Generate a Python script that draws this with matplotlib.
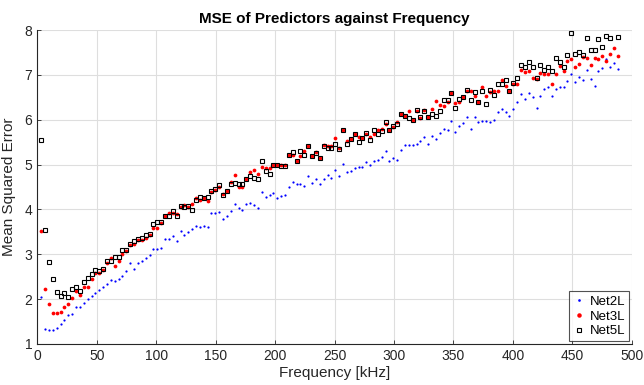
import numpy as np
import matplotlib
matplotlib.use("Agg")
import matplotlib.pyplot as plt

# frequency grid of the sweep (kHz)
freq = np.arange(1, 151) * 3.255

# MSE per frequency
net2l = [2.04, 1.34, 1.31, 1.31, 1.36, 1.45, 1.53, 1.64, 1.67, 1.83,
         1.83, 1.91, 2.01, 2.08, 2.14, 2.20, 2.27, 2.34, 2.43, 2.40,
         2.45, 2.52, 2.62, 2.80, 2.68, 2.80, 2.84, 2.92, 2.99, 3.11,
         3.11, 3.15, 3.33, 3.33, 3.40, 3.30, 3.52, 3.42, 3.50, 3.56,
         3.62, 3.60, 3.63, 3.60, 3.92, 3.91, 3.94, 3.78, 3.86, 3.97,
         4.12, 4.03, 3.99, 4.12, 4.15, 4.11, 4.03, 4.38, 4.27, 4.32,
         4.37, 4.26, 4.30, 4.33, 4.50, 4.62, 4.57, 4.56, 4.53, 4.74,
         4.59, 4.68, 4.57, 4.67, 4.76, 4.70, 4.89, 4.74, 5.01, 4.83,
         4.85, 4.93, 4.94, 4.94, 5.05, 4.99, 5.09, 5.10, 5.18, 5.31,
         5.09, 5.14, 5.11, 5.33, 5.44, 5.43, 5.43, 5.45, 5.53, 5.61,
         5.45, 5.63, 5.57, 5.70, 5.79, 5.77, 5.98, 5.72, 5.85, 5.92,
         6.05, 5.79, 6.07, 5.95, 5.97, 5.98, 5.96, 5.99, 6.18, 6.24,
         6.17, 6.09, 6.24, 6.39, 6.57, 6.47, 6.59, 6.50, 6.26, 6.53,
         6.69, 6.72, 6.53, 6.68, 6.73, 6.73, 6.86, 7.02, 6.85, 6.95,
         6.89, 7.10, 6.91, 6.76, 7.08, 7.15, 7.35, 7.17, 7.27, 7.14]

net3l = [3.53, 2.22, 1.89, 1.69, 1.69, 1.72, 1.83, 1.89, 2.03, 2.19,
         2.10, 2.28, 2.28, 2.44, 2.58, 2.59, 2.66, 2.81, 2.91, 2.75,
         2.85, 3.01, 3.08, 3.20, 3.24, 3.32, 3.32, 3.36, 3.43, 3.59,
         3.59, 3.69, 3.86, 3.93, 3.92, 3.89, 4.06, 4.09, 4.06, 4.12,
         4.26, 4.21, 4.25, 4.18, 4.38, 4.44, 4.50, 4.35, 4.40, 4.62,
         4.76, 4.51, 4.49, 4.67, 4.83, 4.89, 4.78, 4.94, 4.93, 4.93,
         5.00, 5.00, 5.00, 5.00, 5.22, 5.22, 5.09, 5.19, 5.30, 5.42,
         5.19, 5.29, 5.14, 5.44, 5.42, 5.41, 5.60, 5.36, 5.77, 5.52,
         5.56, 5.68, 5.62, 5.59, 5.68, 5.62, 5.68, 5.78, 5.80, 5.91,
         5.78, 5.84, 5.94, 6.13, 6.09, 6.20, 5.99, 6.20, 6.03, 6.21,
         6.05, 6.23, 6.41, 6.32, 6.31, 6.40, 6.59, 6.38, 6.40, 6.51,
         6.63, 6.64, 6.53, 6.39, 6.74, 6.53, 6.61, 6.64, 6.64, 6.88,
         6.75, 6.64, 6.79, 6.79, 7.11, 7.07, 7.09, 6.94, 6.91, 7.05,
         7.03, 7.01, 6.80, 7.01, 7.20, 7.08, 7.30, 7.35, 7.18, 7.25,
         7.39, 7.37, 7.23, 7.37, 7.35, 7.42, 7.32, 7.47, 7.61, 7.43]

net5l = [5.55, 3.55, 2.83, 2.46, 2.16, 2.08, 2.13, 2.04, 2.23, 2.28,
         2.18, 2.39, 2.48, 2.57, 2.66, 2.63, 2.67, 2.86, 2.85, 2.93,
         2.95, 3.10, 3.09, 3.24, 3.29, 3.34, 3.37, 3.43, 3.46, 3.68,
         3.72, 3.71, 3.86, 3.85, 3.96, 3.85, 4.07, 4.05, 4.07, 3.98,
         4.22, 4.27, 4.25, 4.27, 4.42, 4.45, 4.54, 4.33, 4.41, 4.56,
         4.60, 4.57, 4.57, 4.67, 4.75, 4.71, 4.67, 5.07, 4.85, 4.80,
         5.00, 5.00, 4.96, 4.96, 5.22, 5.28, 5.09, 5.31, 5.22, 5.41,
         5.19, 5.25, 5.15, 5.42, 5.36, 5.36, 5.45, 5.35, 5.77, 5.47,
         5.56, 5.68, 5.51, 5.59, 5.70, 5.55, 5.76, 5.69, 5.74, 5.94,
         5.78, 5.85, 5.91, 6.12, 6.09, 6.03, 5.99, 6.21, 6.06, 6.20,
         6.05, 6.12, 6.09, 6.20, 6.44, 6.45, 6.59, 6.27, 6.47, 6.51,
         6.67, 6.44, 6.62, 6.40, 6.64, 6.34, 6.67, 6.55, 6.79, 6.79,
         6.88, 6.64, 6.83, 6.92, 7.21, 7.17, 7.29, 7.18, 6.94, 7.23,
         7.10, 7.17, 7.09, 7.37, 7.29, 7.18, 7.45, 7.94, 7.47, 7.52,
         7.45, 7.82, 7.56, 7.56, 7.81, 7.63, 7.87, 7.82, 8.15, 7.84]

labels = ["Net2L", "Net3L", "Net5L"]
xticks = np.arange(0, 501, 50)
yticks = np.arange(1, 9)

plt.rcParams["font.family"] = ["Liberation Sans", "DejaVu Sans"]
axis_col = "#262626"

fig = plt.figure(figsize=(6.44, 3.85), dpi=100)
ax = fig.add_axes([0.058, 0.1065, 0.923, 0.8155])

ax.plot(freq, net2l, "o", color="blue", ms=1.6, mew=0, label=labels[0])
ax.plot(freq, net3l, "o", color="red", ms=2.7, mew=0, label=labels[1])
ax.plot(freq, net5l, "s", color="black", mfc="none", ms=3.0, mew=0.8,
        label=labels[2])

ax.set_xlim(0, 500)
ax.set_ylim(1, 8)
ax.set_xticks(xticks)
ax.set_yticks(yticks)
ax.grid(True, color="#dedede", linewidth=0.8)
ax.set_axisbelow(True)

for side in ["top", "right"]:
    ax.spines[side].set_visible(False)
for side in ["left", "bottom"]:
    ax.spines[side].set_color(axis_col)
    ax.spines[side].set_linewidth(0.8)
ax.tick_params(direction="in", length=3, width=0.6, colors=axis_col,
               labelsize=10)

ax.set_xlabel("Frequency [kHz]", fontsize=11, color=axis_col, labelpad=2)
ax.set_ylabel("Mean Squared Error", fontsize=11, color=axis_col, labelpad=6)
ax.set_title("MSE of Predictors against Frequency", fontsize=11,
             fontweight="bold", color="black", pad=5)

leg = ax.legend(loc="lower right", fontsize=9.5, frameon=True, fancybox=False,
                handletextpad=0.3, handlelength=1.0, borderpad=0.3,
                labelspacing=0.2, borderaxespad=0.2, markerscale=1.2)
leg.get_frame().set_edgecolor(axis_col)
leg.get_frame().set_linewidth(0.8)

fig.savefig("out.png", dpi=100)
